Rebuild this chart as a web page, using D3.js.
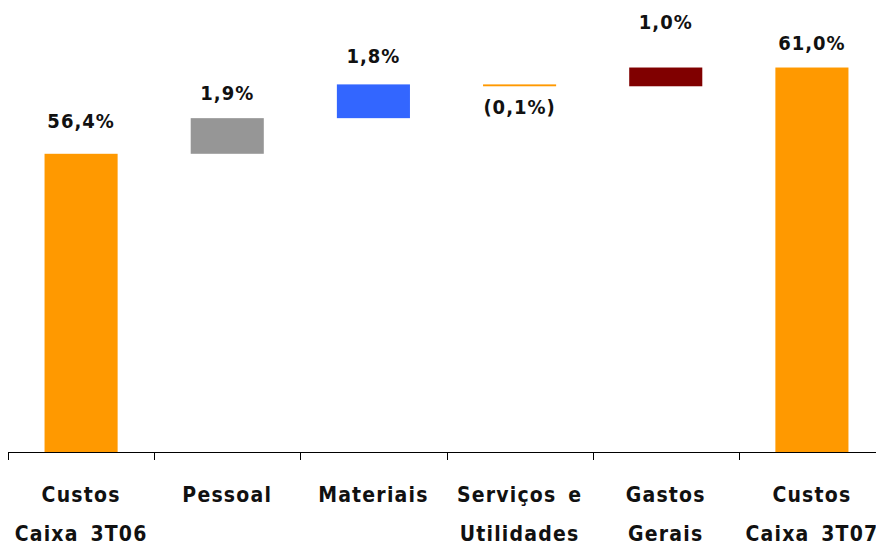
<!DOCTYPE html>
<html><head><meta charset="utf-8">
<script src="https://cdn.jsdelivr.net/npm/d3@7"></script>
<style>
html,body{margin:0;padding:0;background:#fff;}
svg{display:block;}
text{font-family:"DejaVu Sans Condensed","DejaVu Sans",sans-serif;font-weight:bold;fill:#111;}
</style></head>
<body>
<svg id="chart" width="876" height="547"></svg>
<script>
// ---- data ----
const categories = ["Custos|Caixa 3T06", "Pessoal", "Materiais", "Serviços e|Utilidades", "Gastos|Gerais", "Custos|Caixa 3T07"];
const values = [56.4, 1.9, 1.8, -0.1, 1.0, 61.0];
const kinds = ["total", "step", "step", "step", "step", "total"];
const valueLabels = ["56,4%", "1,9%", "1,8%", "(0,1%)", "1,0%", "61,0%"];

// ---- layout / style ----
const colors = ["#FF9900", "#969696", "#3366FF", "#FF9900", "#800000", "#FF9900"];
const labelGap = [26, 18, 21, 28, 39, 18];

const svg = d3.select("#chart");
const x = d3.scaleBand().domain(d3.range(categories.length)).range([8, 885]).paddingInner(0.5).paddingOuter(0.25);
const y = d3.scaleLinear().domain([40.5, 64.6]).range([452, 0]);

let run = 0;
const bars = values.map((v, i) => {
  let a, b;
  if (kinds[i] === "total") { a = y.domain()[0]; b = v; run = v; }
  else { a = run; b = run + v; run = b; }
  return {i, a, b, v};
});

svg.selectAll("rect.bar").data(bars).enter().append("rect")
  .attr("class", "bar")
  .attr("x", d => x(d.i))
  .attr("width", x.bandwidth())
  .attr("y", d => y(Math.max(d.a, d.b)))
  .attr("height", d => Math.max(1.5, Math.abs(y(d.a) - y(d.b))))
  .attr("fill", d => colors[d.i]);

svg.selectAll("text.val").data(bars).enter().append("text")
  .attr("class", "val")
  .attr("x", d => x(d.i) + x.bandwidth() / 2)
  .attr("y", d => d.v < 0 ? y(Math.min(d.a, d.b)) + labelGap[d.i] : y(Math.max(d.a, d.b)) - labelGap[d.i])
  .attr("text-anchor", "middle")
  .style("font-size", "20px")
  .style("letter-spacing", "1px")
  .text(d => valueLabels[d.i]);

// axis
const step = x.step();
const axisG = svg.append("g");
axisG.append("line").attr("x1", 8).attr("x2", 885).attr("y1", 452.5).attr("y2", 452.5).attr("stroke", "#000").attr("stroke-width", 1);
d3.range(categories.length + 1).forEach(k => {
  const tx = Math.round(x(0) - x.bandwidth() / 2 + k * step) + 0.5;
  axisG.append("line").attr("x1", tx).attr("x2", tx).attr("y1", 452).attr("y2", 460).attr("stroke", "#000");
});

categories.forEach((c, i) => {
  const lines = c.split("|");
  const t = svg.append("text")
    .attr("x", x(i) + x.bandwidth() / 2)
    .attr("y", 502)
    .attr("text-anchor", "middle")
    .style("font-size", "21px")
    .style("letter-spacing", "1.2px")
    .style("word-spacing", "4px");
  lines.forEach((l, j) => {
    t.append("tspan").attr("x", x(i) + x.bandwidth() / 2).attr("dy", j === 0 ? 0 : 39).text(l);
  });
});
</script>
</body></html>
